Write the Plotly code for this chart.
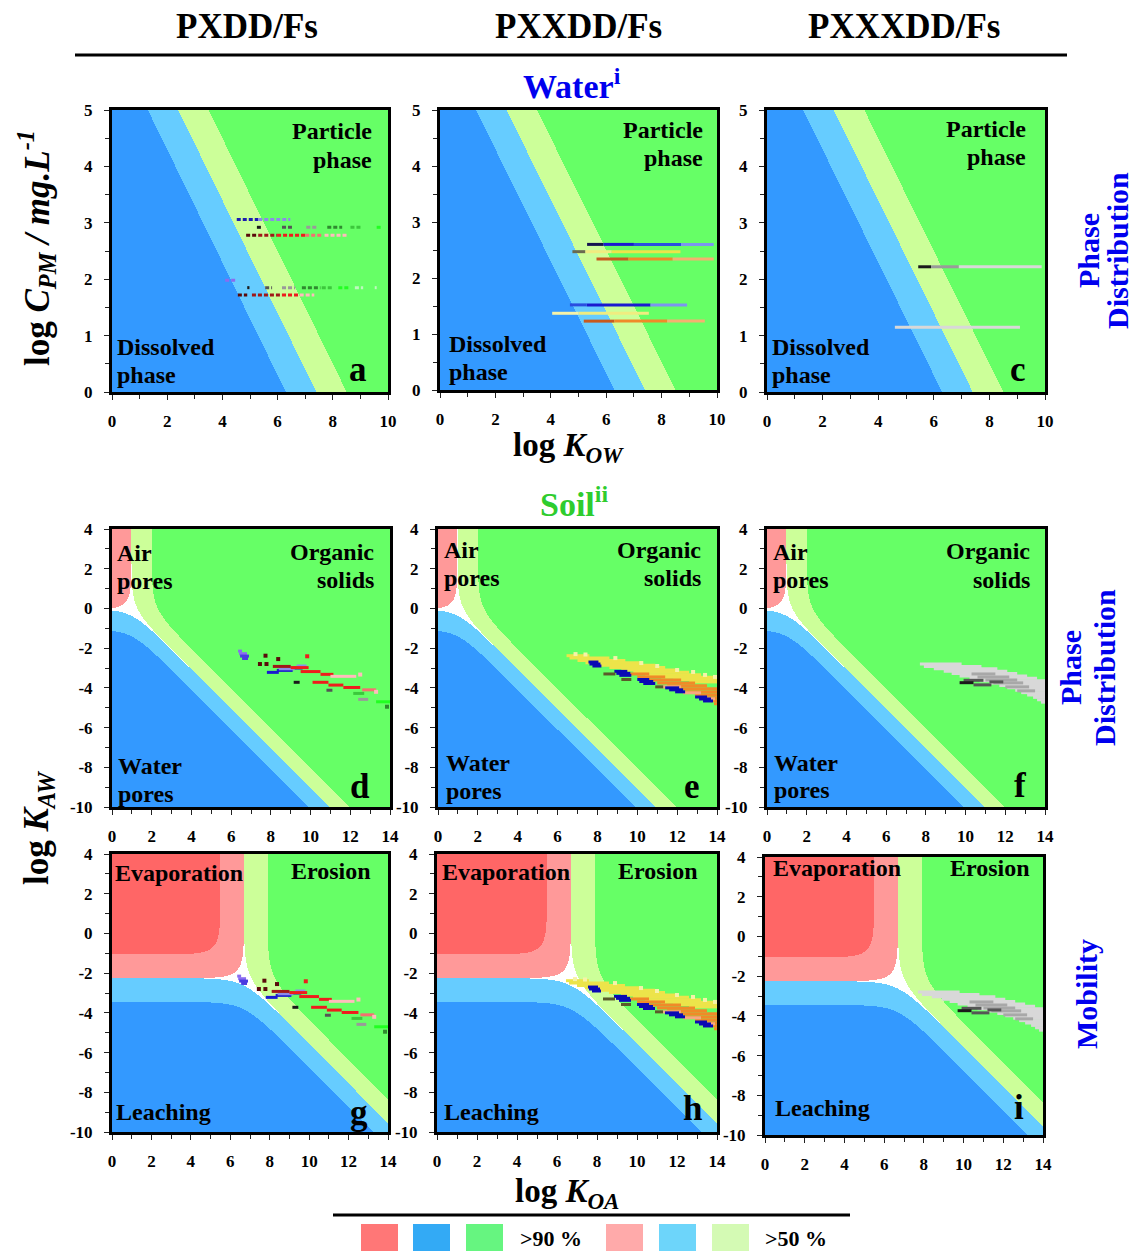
import numpy as np
import plotly.graph_objects as go

PAGE_W, PAGE_H = 1141, 1259
BODY_MARGIN = 8                    # default page margin around the plot div
W, H = PAGE_W - 2 * BODY_MARGIN, PAGE_H - 2 * BODY_MARGIN

# ---------------- axis ranges / tick labels ----------------
KOW_RANGE = [0, 10]
CPM_RANGE = [0, 5]
KOA_RANGE = [0, 14]
KAW_RANGE = [-10, 4]
KOW_TICKS = [0, 2, 4, 6, 8, 10]
CPM_TICKS = [0, 1, 2, 3, 4, 5]
KOA_TICKS = [0, 2, 4, 6, 8, 10, 12, 14]
KAW_TICKS = [-10, -8, -6, -4, -2, 0, 2, 4]

# ---------------- background partition-model parameters ----------------
WATER_MID, WATER_SLOPE = 7.4, 0.87          # 50 % particle-bound at logKow+logCpm = 7.4
SOIL_AIR_MID, SOIL_SOLID_MID, SOIL_SLOPE = -0.06, 0.94, 0.93
MOB_EVAP_MID, MOB_EROS_MID, MOB_SLOPE = -2.26, 4.44, 0.80

# ---------------- measured homologue data: (y, x_start, x_end, shade) ----------------
WATER_PXDD = [
    (3.06, 4.52, 5.30, 'navy'), (3.06, 5.30, 6.46, 'lavender'),
    (2.92, 5.25, 5.45, 'black'), (2.92, 6.16, 6.52, 'dgray'), (2.92, 7.04, 7.43, 'gray'),
    (2.92, 7.80, 8.34, 'dgreen'), (2.92, 8.64, 9.03, 'green'), (2.92, 9.59, 9.80, 'lime'),
    (2.78, 4.86, 5.30, 'maroon'), (2.78, 5.30, 5.98, 'dred'), (2.78, 5.98, 7.00, 'red'),
    (2.78, 7.00, 7.60, 'salmon'), (2.78, 7.70, 8.52, 'pinkish'),
    (1.98, 4.10, 4.52, 'violet'),
    (1.85, 4.90, 4.98, 'black'), (1.85, 5.55, 5.80, 'dgray'), (1.85, 6.16, 6.64, 'gray'),
    (1.85, 6.88, 7.55, 'dgreen'), (1.85, 7.60, 8.00, 'green'), (1.85, 8.20, 8.58, 'lime'),
    (1.85, 8.80, 9.10, 'palegreen'), (1.85, 9.52, 9.59, 'palegreen'),
    (1.72, 4.56, 4.90, 'maroon'), (1.72, 5.07, 6.16, 'dred'), (1.72, 6.16, 6.80, 'red'),
    (1.72, 6.80, 7.33, 'pinkish'),
]
WATER_PXXDD = [
    (2.60, 5.31, 5.90, 'navy2'), (2.60, 5.90, 7.00, 'blue'), (2.60, 7.00, 8.70, 'mblue'), (2.60, 8.70, 9.88, 'lblue'),
    (2.47, 4.78, 5.25, 'olivegray'), (2.47, 5.25, 6.20, 'cream'), (2.47, 6.20, 8.68, 'yellow'),
    (2.34, 5.65, 6.80, 'dorange'), (2.34, 6.80, 8.40, 'orange'), (2.34, 8.40, 9.88, 'lorange'),
    (1.52, 4.69, 5.30, 'mblue'), (1.52, 5.30, 7.60, 'blue'), (1.52, 7.60, 8.92, 'lblue'),
    (1.37, 4.05, 5.00, 'paleyellow'), (1.37, 5.00, 7.54, 'cream'),
    (1.23, 5.19, 6.30, 'dorange'), (1.23, 6.30, 8.20, 'orange'), (1.23, 8.20, 9.56, 'lorange'),
]
WATER_PXXXDD = [
    (2.22, 5.44, 5.90, 'black'), (2.22, 5.90, 6.90, 'gray'), (2.22, 6.90, 9.88, 'lgray'),
    (1.15, 4.60, 9.10, 'lgray'),
]

SOIL_PXDD = [
    (-2.15, 6.35, 6.55, 'violet'), (-2.28, 6.40, 6.80, 'violet'), (-2.40, 6.45, 6.90, 'blueviolet'),
    (-2.52, 6.55, 6.85, 'blueviolet'),
    (-3.22, 7.80, 8.40, 'blue'), (-3.12, 8.30, 9.10, 'blue'), (-3.00, 8.90, 9.60, 'blue'),
    (-2.90, 9.30, 9.80, 'lavender'), (-3.04, 8.40, 9.20, 'lavender'),
    (-2.92, 8.10, 9.00, 'dred'), (-2.98, 9.00, 9.90, 'red'), (-3.18, 9.50, 10.50, 'red'),
    (-3.32, 10.50, 11.15, 'red'), (-3.72, 10.10, 10.90, 'red'), (-3.86, 10.90, 11.65, 'red'),
    (-3.98, 11.65, 12.50, 'red'), (-4.10, 12.60, 13.30, 'salmon'),
    (-3.42, 11.00, 12.30, 'pinkish'),
    (-3.72, 9.15, 9.45, 'black'), (-4.12, 10.80, 11.10, 'dgray'), (-4.28, 12.15, 12.70, 'green'),
    (-4.58, 12.40, 12.90, 'gray'), (-4.70, 13.30, 14.00, 'lime'),
]
SOIL_PXDD_DOTS = [
    (7.73, -2.38, 'maroon'), (8.37, -2.55, 'maroon'), (9.83, -2.41, 'red'), (7.45, -2.80, 'maroon'),
    (7.78, -2.80, 'maroon'), (13.85, -4.95, 'dgreen'), (12.50, -3.33, 'pinkish'), (13.30, -4.20, 'pinkish'),
]
SOIL_PXXDD = [
    (-2.38, 6.45, 7.60, 'yellow'), (-2.50, 6.60, 8.60, 'yellow'), (-2.62, 7.00, 9.40, 'yellow'),
    (-2.74, 7.40, 10.20, 'yellow'), (-2.86, 8.00, 10.90, 'yellow'), (-2.98, 8.60, 11.40, 'yellow'),
    (-3.10, 9.20, 12.00, 'yellow'), (-3.22, 9.80, 12.60, 'yellow'), (-3.34, 10.40, 13.20, 'yellow'),
    (-3.46, 11.20, 13.80, 'yellow'), (-3.58, 11.80, 14.00, 'yellow'), (-3.70, 12.60, 14.00, 'yellow'),
    (-3.30, 9.60, 10.60, 'orange'), (-3.45, 10.00, 11.40, 'orange'), (-3.60, 10.50, 12.20, 'orange'),
    (-3.75, 11.00, 12.90, 'orange'), (-3.90, 11.50, 13.50, 'orange'), (-4.05, 12.00, 14.00, 'orange'),
    (-4.20, 12.40, 14.00, 'orange'), (-4.35, 12.90, 14.00, 'orange'), (-4.50, 13.30, 14.00, 'orange'),
    (-4.65, 13.70, 14.00, 'orange'), (-4.80, 13.85, 14.00, 'orange'),
    (-3.95, 11.20, 12.20, 'lsalmon'), (-4.25, 12.30, 13.20, 'lsalmon'), (-4.55, 13.20, 13.90, 'lsalmon'),
    (-2.70, 7.55, 8.05, 'dkblue'), (-2.80, 7.60, 8.15, 'dkblue'), (-2.90, 7.75, 8.20, 'dkblue'),
    (-3.17, 8.85, 9.50, 'dkblue'), (-3.27, 8.95, 9.65, 'dkblue'), (-3.37, 9.10, 9.70, 'dkblue'),
    (-3.58, 10.00, 10.60, 'dkblue'), (-3.68, 10.10, 10.80, 'dkblue'), (-3.78, 10.30, 10.90, 'dkblue'),
    (-4.00, 11.40, 12.10, 'dkblue'), (-4.10, 11.60, 12.30, 'dkblue'), (-4.20, 11.90, 12.40, 'dkblue'),
    (-4.46, 12.90, 13.50, 'dkblue'), (-4.56, 13.10, 13.70, 'dkblue'), (-4.66, 13.30, 13.80, 'dkblue'),
    (-3.30, 8.30, 8.90, 'olive'), (-3.58, 9.20, 9.70, 'olive'), (-3.95, 10.90, 11.30, 'olive'),
]
SOIL_PXXDD_DOTS = [
    (6.90, -2.30, 'paleyellow'), (7.40, -2.32, 'paleyellow'), (8.90, -2.50, 'paleyellow'),
    (10.20, -2.75, 'paleyellow'), (11.00, -2.90, 'paleyellow'), (12.00, -3.10, 'paleyellow'),
    (12.80, -3.20, 'paleyellow'), (13.40, -3.35, 'paleyellow'), (13.90, -3.45, 'paleyellow'),
]
SOIL_PXXXDD = [
    (-2.80, 7.70, 9.80, 'lgray'), (-2.92, 7.90, 10.80, 'lgray'), (-3.04, 8.40, 11.60, 'lgray'),
    (-3.16, 8.90, 12.10, 'lgray'), (-3.28, 9.30, 12.60, 'lgray'), (-3.40, 9.70, 13.10, 'lgray'),
    (-3.52, 10.20, 13.60, 'lgray'), (-3.64, 10.70, 14.00, 'lgray'), (-3.76, 11.20, 14.00, 'lgray'),
    (-3.88, 11.70, 14.00, 'lgray'), (-4.00, 12.10, 14.00, 'lgray'), (-4.12, 12.50, 14.00, 'lgray'),
    (-4.24, 12.80, 14.00, 'lgray'), (-4.36, 13.10, 14.00, 'lgray'), (-4.48, 13.40, 14.00, 'lgray'),
    (-4.60, 13.60, 14.00, 'lgray'), (-4.72, 13.80, 14.00, 'lgray'),
    (-3.30, 10.30, 11.50, 'mgray'), (-3.45, 10.60, 12.20, 'mgray'), (-3.60, 11.00, 12.60, 'mgray'),
    (-3.75, 11.40, 12.90, 'mgray'), (-3.95, 12.00, 13.20, 'mgray'), (-4.15, 12.60, 13.50, 'mgray'),
    (-3.62, 9.90, 10.90, 'dgray'), (-3.85, 10.40, 11.30, 'dgray'), (-3.70, 11.20, 11.90, 'dgray'),
    (-3.74, 9.70, 10.40, 'black'),
]

SHADES = {
    'navy': '#1c1cb0', 'lavender': '#8c8ce8', 'black': '#1a1a1a', 'dgray': '#555555', 'gray': '#9a9a9a',
    'dgreen': '#2f8a2f', 'green': '#3cc83c', 'lime': '#22ff22', 'palegreen': '#c0f8c0',
    'maroon': '#5a0a0a', 'dred': '#a01818', 'red': '#ee1c1c', 'salmon': '#f47070', 'pinkish': '#ffbcbc',
    'violet': '#8a6cf0', 'blueviolet': '#4a3ae0', 'blue': '#1a1ad0', 'navy2': '#141450',
    'mblue': '#2a4ee0', 'lblue': '#7c96f0', 'olivegray': '#6a6a50', 'cream': '#f0ec80',
    'yellow': '#ece44a', 'paleyellow': '#f6f2a8', 'dorange': '#c85a1e', 'orange': '#f08a28',
    'lorange': '#f6b070', 'lsalmon': '#f4a882', 'dkblue': '#0a0ab4', 'olive': '#5a5a2a',
    'lgray': '#d8d8d8', 'mgray': '#a8a8a8',
}

# region colours: none, air/evap 50 %, air/evap 90 %, water/leach 50 %, 90 %, solid/erosion 50 %, 90 %
REGION_COLORS = ['#ffffff', '#ff9999', '#ff6666', '#66ccff', '#3399ff', '#ccff99', '#66ff66']
LEGEND_COLORS_90 = ['#ff7777', '#33aaf5', '#66f580']
LEGEND_COLORS_50 = ['#ffaaaa', '#6dd5fa', '#d4fab4']

FONT = 'Liberation Serif'


def classify(fracs):
    cat = np.zeros(fracs[0].shape, dtype=np.uint8)
    for k, f in enumerate(fracs):
        cat[f > 0.5] = 2 * k + 1
        cat[f > 0.9] = 2 * k + 2
    return cat


def water_map(xs, ys):
    X, Y = np.meshgrid(xs, ys)
    p = 1.0 / (1.0 + 10 ** (-WATER_SLOPE * (X + Y - WATER_MID)))
    return classify([np.zeros_like(p), 1 - p, p])


def soil_map(xs, ys):
    X, Y = np.meshgrid(xs, ys)
    a = 10 ** (SOIL_SLOPE * (Y - SOIL_AIR_MID))
    s = 10 ** (SOIL_SLOPE * (X + Y - SOIL_SOLID_MID))
    tot = a + 1 + s
    return classify([a / tot, 1 / tot, s / tot])


def mobility_map(xs, ys):
    X, Y = np.meshgrid(xs, ys)
    e = 10 ** (MOB_SLOPE * (Y - MOB_EVAP_MID))
    r = 10 ** (MOB_SLOPE * (X + Y - MOB_EROS_MID))
    tot = e + 1 + r
    return classify([e / tot, 1 / tot, r / tot])


# panel frames in page pixels: (x0, x1, y0top, y1bottom)
PANELS = [
    ('a', (112, 388, 110, 392), 'water', WATER_PXDD, []),
    ('b', (440, 717, 110, 390), 'water', WATER_PXXDD, []),
    ('c', (767, 1045, 110, 392), 'water', WATER_PXXXDD, []),
    ('d', (112, 390, 529, 807), 'soil', SOIL_PXDD, SOIL_PXDD_DOTS),
    ('e', (438, 717, 529, 807), 'soil', SOIL_PXXDD, SOIL_PXXDD_DOTS),
    ('f', (767, 1045, 529, 807), 'soil', SOIL_PXXXDD, []),
    ('g', (112, 388, 854, 1132), 'mob', SOIL_PXDD, SOIL_PXDD_DOTS),
    ('h', (437, 717, 854, 1132), 'mob', SOIL_PXXDD, SOIL_PXXDD_DOTS),
    ('i', (765, 1043, 857, 1135), 'mob', SOIL_PXXXDD, []),
]


def PX(x):
    return (x - BODY_MARGIN) / W


def PY(y):
    return 1 - (y - BODY_MARGIN) / H


colorscale = []
n = len(REGION_COLORS)
for k, c in enumerate(REGION_COLORS):
    colorscale += [[k / n, c], [(k + 1) / n, c]]

fig = go.Figure()
layout = dict(width=W, height=H, autosize=False, margin=dict(l=0, r=0, t=0, b=0, pad=0),
              paper_bgcolor='white', plot_bgcolor='white', showlegend=False)

tickfont = dict(family=FONT, size=17, color='black', weight='bold')

for idx, (letter, (x0, x1, y0, y1), kind, segs, dots) in enumerate(PANELS, start=1):
    xa, ya = f'x{idx}', f'y{idx}'
    if kind == 'water':
        xr, yr, xt, yt, ydt = KOW_RANGE, CPM_RANGE, KOW_TICKS, CPM_TICKS, 0.5
    else:
        xr, yr, xt, yt, ydt = KOA_RANGE, KAW_RANGE, KOA_TICKS, KAW_TICKS, 1
    common = dict(showline=True, linecolor='black', linewidth=3, mirror=True,
                  ticks='outside', ticklen=5, tickwidth=1.3, tickcolor='#222',
                  showgrid=False, zeroline=False, tickfont=tickfont, tickmode='array',
                  fixedrange=True, automargin=False)
    layout[f'xaxis{idx}'] = dict(common, domain=[PX(x0), PX(x1)], range=xr, anchor=ya,
                                 tickvals=xt, ticktext=[str(v) for v in xt],
                                 ticklabelstandoff=7,
                                 minor=dict(tickmode='linear', tick0=0, dtick=1, ticks='outside',
                                            ticklen=4, tickcolor='#222', showgrid=False))
    layout[f'yaxis{idx}'] = dict(common, domain=[PY(y1), PY(y0)], range=yr, anchor=xa,
                                 tickvals=yt, ticktext=[str(v) for v in yt],
                                 ticklabelstandoff=8,
                                 minor=dict(tickmode='linear', tick0=0, dtick=ydt, ticks='outside',
                                            ticklen=4, tickcolor='#222', showgrid=False))
    nx, ny = int(x1 - x0) + 2, int(y1 - y0) + 2
    xs = np.linspace(xr[0], xr[1], nx)
    ys = np.linspace(yr[0], yr[1], ny)
    if kind == 'water':
        z = water_map(xs, ys)
    elif kind == 'soil':
        z = soil_map(xs, ys)
    else:
        z = mobility_map(xs, ys)
    fig.add_trace(go.Heatmap(x=xs, y=ys, z=z, zmin=-0.5, zmax=n - 0.5, colorscale=colorscale,
                             showscale=False, hoverinfo='skip', zsmooth=False,
                             xaxis=xa, yaxis=ya))
    groups = {}
    for (yv, xs0, xs1, shade) in segs:
        gx, gy = groups.setdefault(shade, ([], []))
        gx += [xs0, xs1, None]
        gy += [yv, yv, None]
    for shade, (gx, gy) in groups.items():
        fig.add_trace(go.Scatter(x=gx, y=gy, mode='lines',
                                 line=dict(color=SHADES[shade], width=3,
                                           dash='4px,2px' if letter == 'a' else 'solid'),
                                 hoverinfo='skip', xaxis=xa, yaxis=ya))
    if dots:
        fig.add_trace(go.Scatter(x=[d[0] for d in dots], y=[d[1] for d in dots], mode='markers',
                                 marker=dict(color=[SHADES[d[2]] for d in dots], size=4, symbol='square'),
                                 hoverinfo='skip', xaxis=xa, yaxis=ya))


annotations = []


def text(s, x, y, size, color='black', xanchor='center', angle=0):
    annotations.append(dict(text=s, x=PX(x), y=PY(y), xref='paper', yref='paper', showarrow=False,
                            xanchor=xanchor, yanchor='middle', textangle=angle,
                            font=dict(family=FONT, size=size, color=color, weight='bold')))


# column titles
text('PXDD/Fs', 247, 26, 35)
text('PXXDD/Fs', 578, 26, 35)
text('PXXXDD/Fs', 904, 26, 35)
text('Water<sup>i</sup>', 572, 84, 34, '#0000ee')
text('Soil<sup>ii</sup>', 574, 502, 34, '#2ecc2e')

# axis titles
text('log <i>C</i><sub><i>PM</i></sub><i> / mg.L</i><sup><i>-1</i></sup>', 37, 248, 35, angle=-90)
text('log <i>K</i><sub><i>AW</i></sub>', 38, 828, 35, angle=-90)
text('log <i>K</i><sub><i>OW</i></sub>', 568, 447, 33)
text('log <i>K</i><sub><i>OA</i></sub>', 567, 1193, 33)

# right-side labels
text('Phase', 1089, 251, 30, '#0000ee', angle=-90)
text('Distribution', 1118, 251, 30, '#0000ee', angle=-90)
text('Phase', 1070, 668, 30, '#0000ee', angle=-90)
text('Distribution', 1104, 668, 30, '#0000ee', angle=-90)
text('Mobility', 1086, 994, 30, '#0000ee', angle=-90)

# region labels
REGION_LABELS = [
    ('Particle', 374, 131, 'right'), ('phase', 374, 160, 'right'), ('Dissolved', 115, 347, 'left'), ('phase', 115, 375, 'left'),
    ('Particle', 705, 130, 'right'), ('phase', 705, 158, 'right'), ('Dissolved', 447, 344, 'left'), ('phase', 447, 372, 'left'),
    ('Particle', 1028, 129, 'right'), ('phase', 1028, 157, 'right'), ('Dissolved', 770, 347, 'left'), ('phase', 770, 375, 'left'),
    ('Air', 115, 553, 'left'), ('pores', 115, 581, 'left'), ('Organic', 376, 552, 'right'), ('solids', 376, 580, 'right'),
    ('Water', 116, 766, 'left'), ('pores', 116, 794, 'left'),
    ('Air', 442, 550, 'left'), ('pores', 442, 578, 'left'), ('Organic', 703, 550, 'right'), ('solids', 703, 578, 'right'),
    ('Water', 444, 763, 'left'), ('pores', 444, 791, 'left'),
    ('Air', 771, 552, 'left'), ('pores', 771, 580, 'left'), ('Organic', 1032, 551, 'right'), ('solids', 1032, 580, 'right'),
    ('Water', 772, 763, 'left'), ('pores', 772, 790, 'left'),
    ('Evaporation', 113, 873, 'left'), ('Erosion', 373, 871, 'right'), ('Leaching', 114, 1112, 'left'),
    ('Evaporation', 440, 872, 'left'), ('Erosion', 700, 871, 'right'), ('Leaching', 442, 1112, 'left'),
    ('Evaporation', 771, 868, 'left'), ('Erosion', 1032, 868, 'right'), ('Leaching', 773, 1108, 'left'),
]
for s, x, y, anc in REGION_LABELS:
    text(s, x, y, 24, xanchor=anc)

PANEL_LETTERS = [('a', 358, 369), ('c', 1018, 369), ('d', 360, 786), ('e', 692, 786), ('f', 1020, 785),
                 ('g', 359, 1112), ('h', 692, 1108), ('i', 1019, 1107)]
for s, x, y in PANEL_LETTERS:
    text(s, x, y, 35)

# separator lines and legend
shapes = []


def hline(xa_, xb_, y_):
    shapes.append(dict(type='line', xref='paper', yref='paper', x0=PX(xa_), x1=PX(xb_), y0=PY(y_), y1=PY(y_),
                       line=dict(color='black', width=3)))


hline(75, 1067, 55)
hline(333, 850, 1215)

LEG_X90 = [361, 413, 466]
LEG_X50 = [606, 659, 712]
for xs_, cols in ((LEG_X90, LEGEND_COLORS_90), (LEG_X50, LEGEND_COLORS_50)):
    for xl, c in zip(xs_, cols):
        shapes.append(dict(type='rect', xref='paper', yref='paper', x0=PX(xl), x1=PX(xl + 37),
                           y0=PY(1262), y1=PY(1224), line=dict(width=0), fillcolor=c))
text('>90 %', 551, 1238, 22)
text('>50 %', 796, 1238, 22)

layout['annotations'] = annotations
layout['shapes'] = shapes
fig.update_layout(**layout)
fig.write_html('out.html')
